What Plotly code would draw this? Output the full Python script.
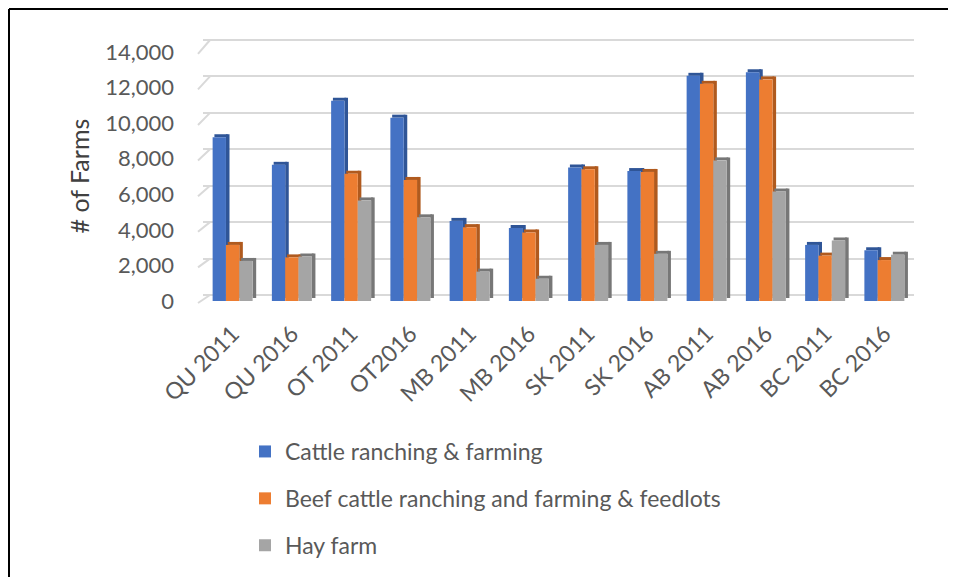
import plotly.graph_objects as go

categories = ["QU 2011", "QU 2016", "OT 2011", "OT2016", "MB 2011", "MB 2016",
              "SK 2011", "SK 2016", "AB 2011", "AB 2016", "BC 2011", "BC 2016"]
cattle = [9200, 7650, 11250, 10300, 4500, 4100, 7500, 7300, 12650, 12850, 3150, 2850]
beef = [3150, 2450, 7150, 6800, 4150, 3850, 7400, 7250, 12200, 12450, 2550, 2300]
hay = [2250, 2500, 5650, 4700, 1650, 1250, 3150, 2650, 7900, 6150, 3400, 2600]
series_names = ["Cattle ranching & farming",
                "Beef cattle ranching and farming & feedlots",
                "Hay farm"]
y_ticks = [0, 2000, 4000, 6000, 8000, 10000, 12000, 14000]

front_colors = ["#4472C4", "#ED7D31", "#A5A5A5"]
dark_colors = ["#2F5597", "#B05A1E", "#777777"]

# page has an 8px body margin; figure is sized to fit the 956x577 window
OFF = 8
W, H = 956 - OFF, 577 - OFF
L, T = 203 - OFF, 36 - OFF
plot_w, plot_h = 711, 265
R = W - L - plot_w
B = H - T - plot_h
px_per_unit = 0.0178
y_top = plot_h / px_per_unit
back_px_per_unit = 255 / 14000
back_lift_px = 6

bar_w = 0.225
side_w = 0.06
depth = 3.0 / px_per_unit  # vertical shift of the 3D depth, in data units
offsets = [-0.3375, -0.1125, 0.1125]

fig = go.Figure()
for i, vals in enumerate([cattle, beef, hay]):
    # side face
    fig.add_trace(go.Bar(
        x=categories, y=vals, base=[depth] * len(vals),
        offset=offsets[i] + bar_w, width=side_w,
        marker=dict(color=dark_colors[i], line=dict(width=0)),
        showlegend=False, hoverinfo="skip", legendgroup=f"g{i}"))
    # top face
    fig.add_trace(go.Bar(
        x=categories, y=[depth] * len(vals), base=vals,
        offset=offsets[i] + side_w / 2, width=bar_w,
        marker=dict(color=dark_colors[i], line=dict(width=0)),
        showlegend=False, hoverinfo="skip", legendgroup=f"g{i}"))
    # front face
    fig.add_trace(go.Bar(
        x=categories, y=vals, name=series_names[i],
        offset=offsets[i], width=bar_w,
        marker=dict(color=front_colors[i], line=dict(width=0)),
        legendgroup=f"g{i}"))

# helper trace so the back-wall gridline axis is drawn
fig.add_trace(go.Scatter(x=categories, y=[None] * len(categories), yaxis="y2",
                         showlegend=False, hoverinfo="skip", mode="markers"))

font_family = "Lato, Calibri, Carlito, Arial, sans-serif"

# slanted left ends of the back-wall gridlines (3D floor/wall perspective)
shapes = []
for v in y_ticks:
    back_px = back_lift_px + v * back_px_per_unit       # px above plot bottom
    front_px = -2 + v * px_per_unit
    shapes.append(dict(
        type="line", xref="paper", yref="paper",
        x0=-5 / plot_w, x1=7 / plot_w,
        y0=front_px / plot_h, y1=back_px / plot_h,
        line=dict(color="#D9D9D9", width=2), layer="below"))

# chart frame
shapes += [
    dict(type="line", xref="paper", yref="paper",
         x0=(1 - L) / plot_w, x1=(W - L + 5) / plot_w,
         y0=(T + plot_h - 1) / plot_h, y1=(T + plot_h - 1) / plot_h,
         line=dict(color="black", width=2)),
    dict(type="line", xref="paper", yref="paper",
         x0=(1 - L) / plot_w, x1=(1 - L) / plot_w,
         y0=(T + plot_h - 1) / plot_h, y1=(T + plot_h - H - 5) / plot_h,
         line=dict(color="black", width=2)),
]

fig.update_layout(
    width=W, height=H,
    margin=dict(l=L, r=R, t=T, b=B, pad=0, autoexpand=False),
    paper_bgcolor="white", plot_bgcolor="rgba(0,0,0,0)",
    barmode="overlay",
    font=dict(family=font_family, color="#595959"),
    xaxis=dict(
        type="category", range=[-0.5, len(categories) - 0.5],
        showgrid=False, zeroline=False, showline=False, ticks="",
        tickangle=-45, tickfont=dict(size=23, color="#595959"),
        ticklabelstandoff=14),
    yaxis=dict(
        range=[0, y_top], tickvals=y_ticks, tickformat=",d",
        showgrid=False, zeroline=False, showline=False, ticks="",
        tickfont=dict(size=22, color="#595959"),
        ticklabelstandoff=28),
    yaxis2=dict(
        overlaying="y", side="left",
        range=[-(back_lift_px / back_px_per_unit),
               (plot_h - back_lift_px) / back_px_per_unit],
        tickvals=y_ticks, showticklabels=False,
        showgrid=True, gridcolor="#D9D9D9", gridwidth=2,
        zeroline=False, showline=False, ticks=""),
    legend=dict(
        x=(245 - OFF - L) / plot_w, y=(T + plot_h - 422) / plot_h,
        xanchor="left", yanchor="top",
        orientation="v", traceorder="grouped",
        tracegroupgap=14,
        font=dict(size=23, color="#595959"),
        bgcolor="rgba(0,0,0,0)"),
    annotations=[dict(
        text="# of Farms", textangle=-90, showarrow=False,
        xref="paper", yref="paper",
        x=(78 - OFF - L) / plot_w, y=(T + plot_h - (176.5 - OFF)) / plot_h,
        xanchor="center", yanchor="middle",
        font=dict(size=25, color="#404040"))],
    shapes=shapes,
)

fig.write_html("out.html")
